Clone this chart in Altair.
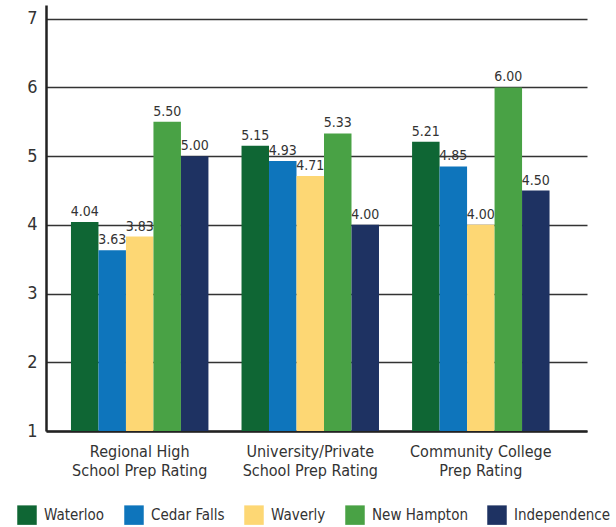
import altair as alt
import pandas as pd

categories = ["Regional High|School Prep Rating", "University/Private|School Prep Rating", "Community College|Prep Rating"]
schools = ["Waterloo", "Cedar Falls", "Waverly", "New Hampton", "Independence"]
colors = ["#0f6634", "#0e75bc", "#fdd774", "#49a245", "#1e3262"]
values = {
    "Waterloo": [4.04, 5.15, 5.21],
    "Cedar Falls": [3.63, 4.93, 4.85],
    "Waverly": [3.83, 4.71, 4.00],
    "New Hampton": [5.50, 5.33, 6.00],
    "Independence": [5.00, 4.00, 4.50],
}

rows = []
for s in schools:
    for c, v in zip(categories, values[s]):
        rows.append({"category": c, "school": s, "value": v, "label": f"{v:.2f}"})
df = pd.DataFrame(rows)

FONT = "Liberation Sans Narrow, DejaVu Sans Condensed, Roboto Condensed, sans-serif"

x = alt.X("category:N", sort=categories, title=None,
          scale=alt.Scale(paddingInner=0.194, paddingOuter=0.183, align=0.4),
          axis=alt.Axis(labelExpr="split(datum.label, '|')", labelAngle=0, labelFontSize=16,
                        labelColor="#333333", labelPadding=12, labelLineHeight=19,
                        ticks=False, domainColor="#222222", domainWidth=2.5, labelFont=FONT))
xo = alt.XOffset("school:N", sort=schools, scale=alt.Scale(paddingInner=0, paddingOuter=0))
y = alt.Y("value:Q", title=None,
          scale=alt.Scale(domain=[1, 7.2], nice=False, zero=False),
          axis=alt.Axis(values=[1, 2, 3, 4, 5, 6, 7], labelFontSize=18, labelColor="#333333",
                        labelPadding=9, ticks=False, domainColor="#222222", domainWidth=2.5,
                        gridColor="#333333", gridWidth=1.3, labelFont=FONT))

bars = alt.Chart(df).mark_bar().encode(
    x=x, xOffset=xo, y=y, y2=alt.datum(1),
    color=alt.Color("school:N", sort=schools,
                    scale=alt.Scale(domain=schools, range=colors),
                    legend=alt.Legend(title=None, orient="none", direction="horizontal",
                                      legendX=-29, legendY=500, symbolType="square",
                                      symbolSize=380, symbolStrokeWidth=0, labelFontSize=15,
                                      labelColor="#333333", columnPadding=19, labelOffset=7,
                                      labelFont=FONT, symbolOpacity=1)),
)

text = alt.Chart(df).mark_text(dy=-10, fontSize=14, color="#333333", font=FONT).encode(
    x=x, xOffset=xo, y=y, text="label:N"
)

chart = alt.layer(bars, text).properties(
    width=541, height=426,
    autosize=alt.AutoSizeParams(type="none"),
    padding={"left": 46, "top": 5, "right": 29, "bottom": 96},
).configure_view(stroke=None).configure_axis(gridOpacity=1)

chart.save("out.html", embed_options={"renderer": "svg", "actions": False})
